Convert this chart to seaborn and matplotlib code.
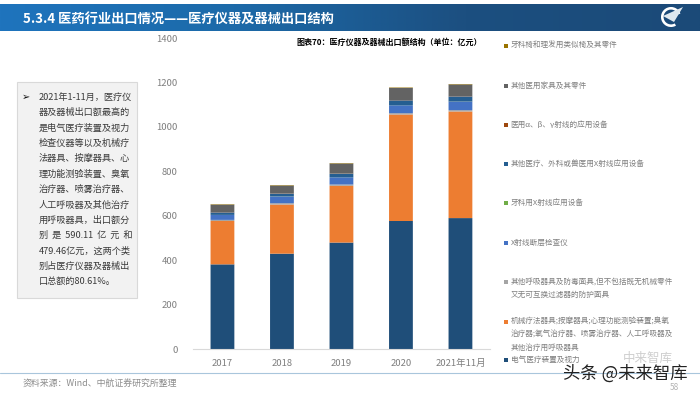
import numpy as np
import matplotlib
matplotlib.use('Agg')
import matplotlib.pyplot as plt
from matplotlib.colors import LinearSegmentedColormap
from matplotlib.patches import Rectangle, Wedge, Polygon
import seaborn as sns

# values (yi yuan)
years = ['2017', '2018', '2019', '2020', '2021年11月']
electric = [382, 430, 480, 577, 590.11]
mechanic = [195, 221, 255, 479, 479.46]
breathing = [5, 6, 6, 6, 6]
ct = [22, 30, 33, 36, 38]
dental_xray = [0.5, 0.5, 0.5, 0.5, 0.5]
other_xray = [11, 12, 15, 21, 23]
alpha_ray = [1, 1, 1, 1, 1]
furniture = [34, 36, 45, 55, 53]
dental_chair = [2, 2, 2, 2, 2]

series = [electric, mechanic, breathing, ct, dental_xray, other_xray, alpha_ray, furniture, dental_chair]
colors = ['#1f4e79', '#ed7d31', '#a5a5a5', '#4472c4', '#70ad47', '#255e91', '#9e480e', '#636363', '#997300']

# legend, top to bottom: colour index, lines of text
legend_rows = [
    (8, ['牙科椅和理发用类似椅及其零件']),
    (7, ['其他医用家具及其零件']),
    (6, ['医用α、β、γ射线的应用设备']),
    (5, ['其他医疗、外科或兽医用X射线应用设备']),
    (4, ['牙科用X射线应用设备']),
    (3, ['X射线断层检查仪']),
    (2, ['其他呼吸器具及防毒面具,但不包括既无机械零件', '又无可互换过滤器的防护面具']),
    (1, ['机械疗法器具;按摩器具;心理功能测验装置;臭氧', '治疗器;氧气治疗器、喷雾治疗器、人工呼吸器及', '其他治疗用呼吸器具']),
    (0, ['电气医疗装置及视力']),
]
legend_y = [46.3, 85.7, 125, 164, 203, 242.7, 282, 321.7, 360]

note_lines = [
    '2021年1-11月，医疗仪',
    '器及器械出口额最高的',
    '是电气医疗装置及视力',
    '检查仪器等以及机械疗',
    '法器具、按摩器具、心',
    '理功能测验装置、臭氧',
    '治疗器、喷雾治疗器、',
    '人工呼吸器及其他治疗',
    '用呼吸器具，出口额分',
    '别  是  590.11  亿  元  和',
    '479.46亿元，这两个类',
    '别占医疗仪器及器械出',
    '口总额的80.61%。',
]

sns.set_theme(style='white')
plt.rcParams['font.family'] = ['Noto Sans CJK SC', 'DejaVu Sans']

W, H = 700, 394
fig = plt.figure(figsize=(W / 100, H / 100), dpi=100)

# page decoration in pixel coordinates
bg = fig.add_axes([0, 0, 1, 1])
bg.set_xlim(0, W)
bg.set_ylim(H, 0)
bg.axis('off')

cmap = LinearSegmentedColormap.from_list('head', ['#1f74bd', '#1c6aa9', '#1c4f80', '#1b4a78'])
bg.imshow(np.linspace(0, 1, 256).reshape(1, -1), cmap=cmap, aspect='auto', extent=[0, W, 31, 4])
bg.set_xlim(0, W)
bg.set_ylim(H, 0)
bg.text(23, 19, '5.3.4 医药行业出口情况——医疗仪器及器械出口结构', color='white',
        fontsize=9.55, fontweight='bold', va='center')

# logo
bg.add_patch(Wedge((671, 17), 10, 60, 340, width=2.6, facecolor='white', edgecolor='none'))
bg.add_patch(Polygon([[663, 16], [683, 7], [674, 22]], closed=True, facecolor='#dfe8ef', edgecolor='none'))

# text box on the left
bg.add_patch(Rectangle((17, 82), 120, 216, facecolor='#f2f2f2', edgecolor='#d9d9d9', linewidth=0.8))
bg.text(26, 97.3, '➢', fontsize=7, color='#111111', va='center', ha='center', family=['DejaVu Sans'])
for i, line in enumerate(note_lines):
    bg.text(39, 97.3 + i * 15.37, line, fontsize=6.6, color='#3a3a3a', va='center')

# footer
bg.plot([0, W], [372.7, 372.7], color='#a9c6dc', linewidth=0.8)
bg.text(23, 384, '资料来源：Wind、中航证券研究所整理', fontsize=6.4, color='#8c8c8c', va='center')
bg.text(674, 387, '58', fontsize=6, color='#b5b5b5', va='center', ha='center')

# legend as text rows
for (idx, lines), y in zip(legend_rows, legend_y):
    bg.add_patch(Rectangle((504, y - 2), 4, 4, facecolor=colors[idx], edgecolor='none'))
    for j, line in enumerate(lines):
        bg.text(510.5, y + j * 13, line, fontsize=5.5, color='#7f7f7f', va='center')

# chart
ax = fig.add_axes([192.7 / W, (H - 349.3) / H, 297.5 / W, 311.3 / H])
ax.patch.set_alpha(0)
bottom = np.zeros(len(years))
for vals, c in zip(series, colors):
    sns.barplot(x=years, y=vals, bottom=bottom, color=c, width=0.4, saturation=1,
                linewidth=0, edgecolor='none', snap=False, ax=ax)
    bottom = bottom + np.array(vals)

ax.set_ylim(0, 1400)
ax.set_yticks(range(0, 1401, 200))
ax.tick_params(axis='both', length=0, labelsize=6.8, labelcolor='#7f7f7f')
ax.tick_params(axis='y', pad=11)
ax.tick_params(axis='x', pad=7)
sns.despine(ax=ax, left=True)
ax.spines['bottom'].set_color('#d9d9d9')
ax.spines['bottom'].set_linewidth(0.8)
ax.set_xlabel('')
ax.set_ylabel('')

# watermark and chart title on top
top = fig.add_axes([0, 0, 1, 1])
top.set_xlim(0, W)
top.set_ylim(H, 0)
top.axis('off')
top.text(482, 42.7, '图表70：医疗仪器及器械出口额结构（单位：亿元）', fontsize=5.8,
         fontweight='bold', color='black', va='center', ha='right')
top.text(648, 358, '中来智库', fontsize=9, color='#cfcfcf', va='center', ha='center')
top.text(625, 373.5, '头条 @未来智库', fontsize=12.5, color='#222222', va='center', ha='center')

fig.savefig('out.png', dpi=100)
